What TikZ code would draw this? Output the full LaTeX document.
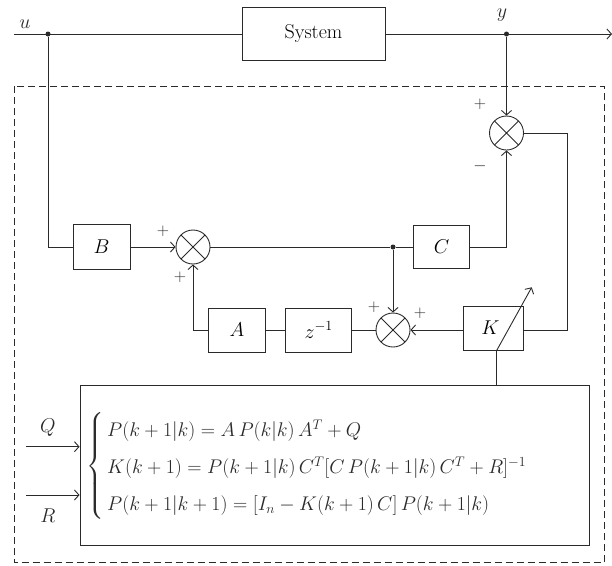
\RequirePackage{fix-cm}
\documentclass[tikz,border=0pt]{standalone}
\usepackage{amsmath,amssymb}
\usepackage{tikz}
\usetikzlibrary{arrows.meta,positioning,calc}
\definecolor{ink}{HTML}{2A2A2A}
\tikzset{
  >={Straight Barb[length=4.5pt,width=10pt]},
  block/.style={draw=ink, line width=.9pt, inner sep=0pt, font=\fontsize{20}{20}\selectfont},
  sumnode/.style={circle, draw=ink, line width=.9pt, minimum size=34pt, inner sep=0pt,
    path picture={\draw[ink,line width=.9pt]
      (path picture bounding box.north west) -- (path picture bounding box.south east)
      (path picture bounding box.north east) -- (path picture bounding box.south west);}},
  flow/.style={->, line width=.9pt, color=ink},
  wire/.style={line width=.9pt, color=ink},
  dot/.style={circle, fill=ink, minimum size=5pt, inner sep=0pt},
  sign/.style={font=\fontsize{17}{20}\selectfont, inner sep=0pt, text=ink},
  lbl/.style={font=\fontsize{20}{20}\selectfont, inner sep=0pt, text=ink},
  eqn/.style={font=\fontsize{19.8}{20}\selectfont, inner sep=0pt, text=ink}
}

\begin{document}
\begin{tikzpicture}[x=1pt,y=-1pt]
  \useasboundingbox (0,0) rectangle (612,565);

  % plant
  \node[block,minimum width=143pt,minimum height=53pt] (sys) at (313.5,34) {System};
  \node[dot] (udot) at (48,34) {};
  \node[dot] (ydot) at (506.5,34) {};
  \coordinate (uin) at (14,34);
  \coordinate (yout) at (612,34);
  \draw[wire] (uin) -- (sys.west);
  \draw[flow] (sys.east) -- (yout);
  \node[lbl] at (25,24) {$u$};
  \node[lbl] at (502,15) {$y$};

  % estimator frame
  \draw[ink,line width=.8pt,dash pattern=on 7pt off 4pt] (14,86) rectangle (604,562.5);

  \node[block,minimum width=57pt,minimum height=45pt] (B) at (101.5,247) {$B$};
  \node[sumnode] (s1) at (193,247) {};
  \node[dot] (jdot) at (393,247) {};
  \node[block,minimum width=56pt,minimum height=43pt] (C) at (441.5,247) {$C$};
  \node[sumnode] (sy) at (506.5,133) {};
  \node[block,minimum width=57pt,minimum height=44pt] (A) at (237,330) {$A$};
  \node[block,minimum width=66pt,minimum height=44pt] (Z) at (318.7,330) {$z^{-1}$};
  \node[sumnode] (s2) at (393,330) {};
  \node[block,minimum width=60pt,minimum height=44pt] (K) at (493.3,328) {$K$\hspace*{6pt}};

  \draw[wire] (udot) |- (B.west);
  \draw[flow] (B) -- (s1);
  \draw[wire] (s1) -- (jdot) -- (C);
  \draw[flow] (C.east) -| (sy.south);
  \draw[flow] (ydot) -- (sy.north);
  \coordinate (rc) at (567.5,133);
  \draw[wire] (sy.east) -- (rc) |- (K.east |- s2);
  \draw[flow] (K.west |- s2) -- (s2);
  \draw[flow] (jdot) -- (s2);
  \draw[wire] (s2) -- (Z) -- (A);
  \draw[flow] (A.west) -| (s1.south);

  % signs
  \node[sign] at (480,104) {$+$};
  \node[sign] at (480,166) {$-$};
  \node[sign] at (163,231) {$+$};
  \node[sign] at (180,277) {$+$};
  \node[sign] at (374,307) {$+$};
  \node[sign] at (420,313) {$+$};

  % variable gain
  \coordinate (kd) at ([xshift=3.4pt]K.south);
  \coordinate (ku) at (531.7,287.3);
  \draw[flow] (kd) -- (ku);

  % Kalman gain computation
  \node[block,minimum width=509pt,minimum height=160.7pt] (kal) at (334.5,465.4) {};
  \draw[wire] (kd) -- (kd |- kal.north);
  \node[eqn,anchor=west] (eqs) at (86,466)
    {\renewcommand{\arraystretch}{1.85}$\left\{\begin{array}{@{\,}l@{}}
      P(k+1|k)=A\,P(k|k)\,A^T+Q\\
      K(k+1)=P(k+1|k)\,C^T[C\,P(k+1|k)\,C^T+R]^{-1}\\
      P(k+1|k+1)=[I_n-K(k+1)\,C]\,P(k+1|k)
    \end{array}\right.$};
  \coordinate (qin) at (26,446.7);
  \coordinate (rin) at (26,495);
  \draw[flow] (qin) -- (qin -| kal.west);
  \draw[flow] (rin) -- (rin -| kal.west);
  \node[lbl] at (48,428) {$Q$};
  \node[lbl] at (48,516) {$R$};
\end{tikzpicture}
\end{document}
